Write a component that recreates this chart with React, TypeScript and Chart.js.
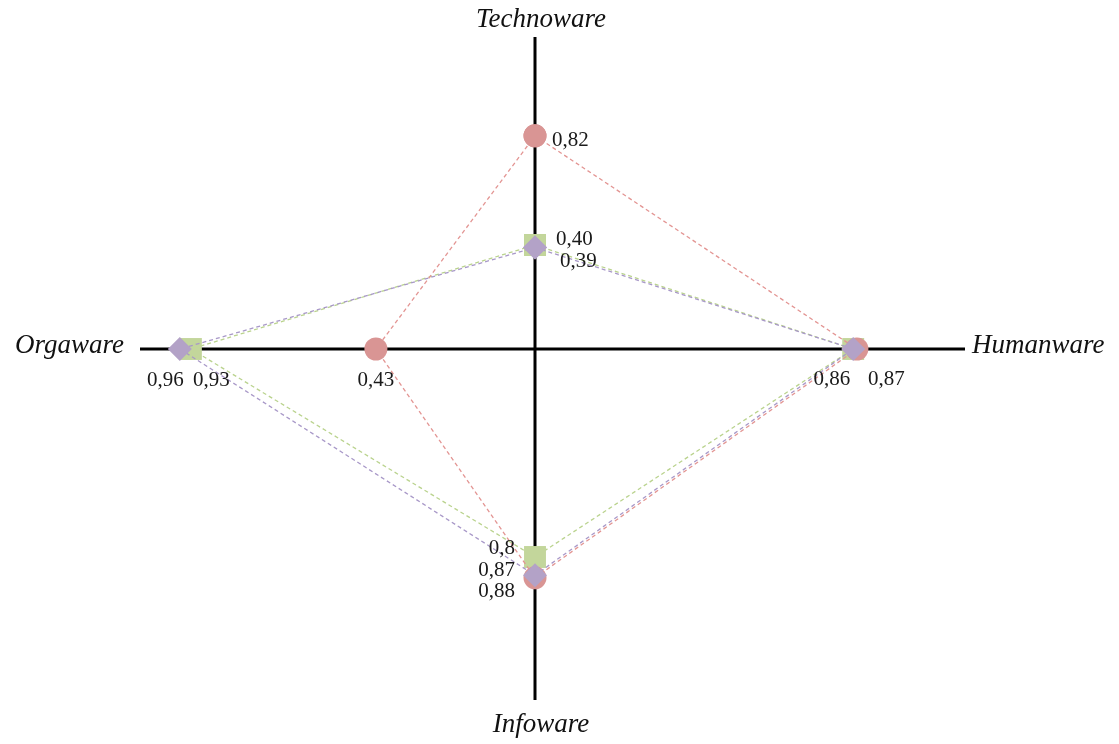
import React, { useEffect, useRef } from "react";
import { Chart, registerables } from "chart.js";

Chart.register(...registerables);

// ---- data ----
const axisNames = ["Technoware", "Humanware", "Infoware", "Orgaware"];
const redValues = [0.82, 0.87, 0.88, 0.43];
const greenValues = [0.4, 0.86, 0.8, 0.93];
const purpleValues = [0.39, 0.86, 0.87, 0.96];
const redLabels = ["0,82", "0,87", "0,88", "0,43"];
const greenLabels = ["0,40", "", "0,8", "0,93"]; // Humanware value shared with the purple point
const purpleLabels = ["0,39", "0,86", "0,87", "0,96"];

// direction of each axis: Technoware up, Humanware right, Infoware down, Orgaware left
const axisDirections = [
  [0, 1],
  [1, 0],
  [0, -1],
  [-1, 0],
];

function toPoints(values: number[]) {
  const pts = values.map((v, i) => ({ x: axisDirections[i][0] * v, y: axisDirections[i][1] * v }));
  return [...pts, pts[0]];
}

type LabelStyle = { dx: number; dy: number; align: CanvasTextAlign };
const labelStyles: Record<string, LabelStyle[]> = {
  red: [
    { dx: 17, dy: 5, align: "left" },
    { dx: 11, dy: 30, align: "left" },
    { dx: -20, dy: 14, align: "right" },
    { dx: 0, dy: 31, align: "center" },
  ],
  green: [
    { dx: 21, dy: -6, align: "left" },
    { dx: 0, dy: 30, align: "center" },
    { dx: -20, dy: -9, align: "right" },
    { dx: 2, dy: 31, align: "left" },
  ],
  purple: [
    { dx: 25, dy: 14, align: "left" },
    { dx: -3, dy: 30, align: "right" },
    { dx: -20, dy: -5, align: "right" },
    { dx: 4, dy: 31, align: "right" },
  ],
};

const crossPlugin = {
  id: "cross",
  beforeDatasetsDraw(chart: any) {
    const ctx = chart.ctx;
    const cx = chart.scales.x.getPixelForValue(0);
    const cy = chart.scales.y.getPixelForValue(0);
    ctx.save();
    ctx.strokeStyle = "#000";
    ctx.lineWidth = 3;
    ctx.beginPath();
    ctx.moveTo(cx - 395, cy);
    ctx.lineTo(cx + 430, cy);
    ctx.moveTo(cx, cy - 312);
    ctx.lineTo(cx, cy + 351);
    ctx.stroke();

    ctx.fillStyle = "#111";
    ctx.font = 'italic 27px "Liberation Serif", "Times New Roman", serif';
    ctx.textBaseline = "middle";
    ctx.textAlign = "center";
    ctx.fillText(axisNames[0], cx + 6, cy - 329);
    ctx.fillText(axisNames[2], cx + 6, cy + 376);
    ctx.textAlign = "right";
    ctx.fillText(axisNames[3], cx - 411, cy - 3);
    ctx.textAlign = "left";
    ctx.fillText(axisNames[1], cx + 437, cy - 3);
    ctx.restore();
  },
  afterDatasetsDraw(chart: any) {
    const ctx = chart.ctx;
    ctx.save();
    ctx.fillStyle = "#1a1a1a";
    ctx.font = '21px "Liberation Serif", "Times New Roman", serif';
    ctx.textBaseline = "middle";
    chart.data.datasets.forEach((ds: any, di: number) => {
      const meta = chart.getDatasetMeta(di);
      const styles = labelStyles[ds.key];
      ds.valueLabels.forEach((txt: string, i: number) => {
        if (!txt) return;
        const el = meta.data[i];
        const s = styles[i];
        ctx.textAlign = s.align;
        ctx.fillText(txt, el.x + s.dx, el.y + s.dy);
      });
    });
    ctx.restore();
  },
};

export default function App() {
  const ref = useRef<HTMLCanvasElement>(null);
  useEffect(() => {
    document.body.style.margin = "0";
    const chart = new Chart(ref.current!, {
      type: "scatter",
      data: {
        datasets: [
          {
            key: "purple",
            valueLabels: purpleLabels,
            data: toPoints(purpleValues),
            showLine: true,
            borderColor: "#a898c8",
            borderWidth: 1.3,
            borderDash: [4, 3],
            pointStyle: "rectRot",
            pointRadius: 12,
            pointBackgroundColor: "#b3a2c7",
            pointBorderColor: "#b3a2c7",
            pointBorderWidth: 0,
            order: 0,
          } as any,
          {
            key: "red",
            valueLabels: redLabels,
            data: toPoints(redValues),
            showLine: true,
            borderColor: "#e39593",
            borderWidth: 1.3,
            borderDash: [4, 3],
            pointStyle: "circle",
            pointRadius: 11.5,
            pointBackgroundColor: "#d99594",
            pointBorderColor: "#d99594",
            pointBorderWidth: 0,
            order: 1,
          } as any,
          {
            key: "green",
            valueLabels: greenLabels,
            data: toPoints(greenValues),
            showLine: true,
            borderColor: "#bad38e",
            borderWidth: 1.3,
            borderDash: [4, 3],
            pointStyle: "rect",
            pointRadius: 15.5,
            pointBackgroundColor: "#c3d69b",
            pointBorderColor: "#c3d69b",
            pointBorderWidth: 0,
            order: 2,
          } as any,
        ],
      },
      options: {
        responsive: false,
        animation: false,
        devicePixelRatio: 1,
        layout: { padding: 0, autoPadding: false },
        plugins: { legend: { display: false }, tooltip: { enabled: false } },
        scales: {
          x: { type: "linear", min: -535 / 370, max: 584 / 370, display: false },
          y: { type: "linear", min: -395 / 260, max: 349 / 260, display: false },
        },
        elements: { line: { tension: 0 } },
      } as any,
      plugins: [crossPlugin],
    });
    return () => chart.destroy();
  }, []);
  return <canvas ref={ref} width={1119} height={744} style={{ display: "block" }} />;
}
